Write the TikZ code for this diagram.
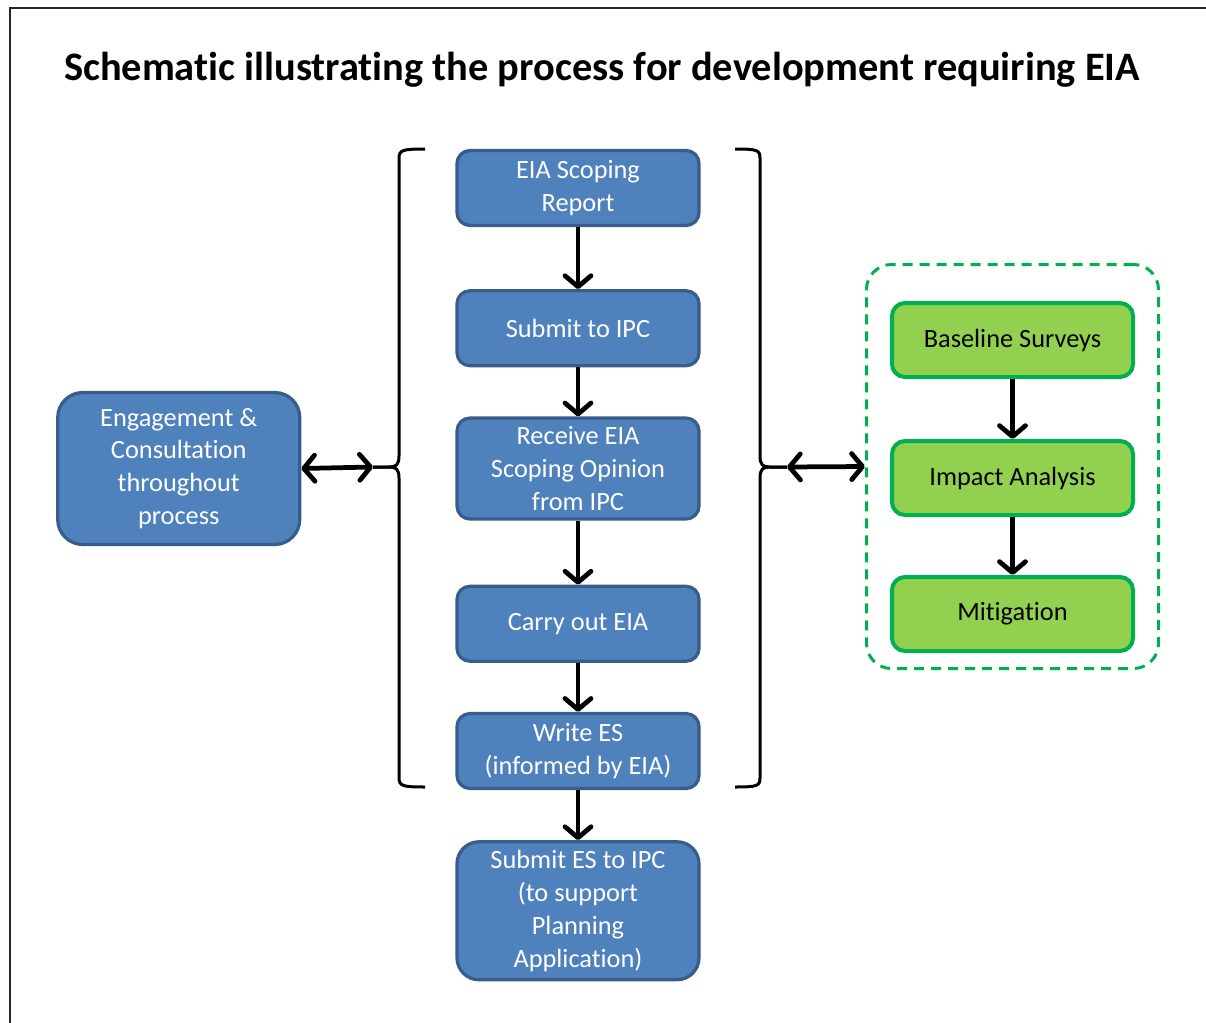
\documentclass[tikz,border=0pt]{standalone}
\usepackage{fontspec}
\setmainfont{Carlito}[Ligatures=NoCommon]
\usetikzlibrary{positioning, arrows.meta, calc}

\definecolor{boxblue}{HTML}{4F81BD}
\definecolor{boxblueline}{HTML}{385D8A}
\definecolor{boxgreen}{HTML}{92D050}
\definecolor{boxgreenline}{HTML}{00B050}

\begin{document}
\begin{tikzpicture}[
    x=0.2mm, y=-0.2mm, % one unit is one pixel of the sheet
    bluebox/.style={draw=boxblueline, fill=boxblue, text=white, line width=0.65mm, rounded corners=2.6mm, align=center, minimum width=48.4mm, minimum height=15mm, font=\fontsize{15}{18.7}\selectfont},
    greenbox/.style={draw=boxgreenline, fill=boxgreen, text=black, line width=0.8mm, rounded corners=2.6mm, align=center, minimum width=48.2mm, minimum height=14.8mm, font=\fontsize{15}{18.7}\selectfont},
    groupbox/.style={draw=boxgreenline, dashed, dash pattern=on 2mm off 1.4mm, line width=0.6mm, rounded corners=5mm, minimum width=58.4mm, minimum height=80.8mm},
    flow/.style={line width=0.95mm, -{Straight Barb[length=2.2mm, width=5.2mm, round]}},
    twoway/.style={line width=0.95mm, {Straight Barb[length=2.2mm, width=5.2mm, round]}-{Straight Barb[length=2.2mm, width=5.2mm, round]}},
    bracket/.style={line width=0.6mm}
]
\useasboundingbox (0,0) rectangle (1206,1023);

% Frame and heading
\draw[line width=0.4mm, black!85] (10,1023) -- (10,8) -- (1206,8);
\node (title) at (602,70) [font=\bfseries\fontsize{23}{27}\selectfont] {Schematic illustrating the process for development requiring EIA};

% Main process column
\node (scoping) at (578,188) [bluebox] {EIA Scoping\\Report};
\node (submit) [bluebox, below=12.4mm of scoping] {Submit to IPC};
\node (opinion) [bluebox, below=9.8mm of submit, minimum height=20.2mm] {Receive EIA\\Scoping Opinion\\from IPC};
\node (carry) [bluebox, below=12.8mm of opinion] {Carry out EIA};
\node (write) [bluebox, below=9.8mm of carry] {Write ES\\(informed by EIA)};
\node (submit_es) [bluebox, below=10mm of write, minimum height=27.6mm, rounded corners=4.4mm] {Submit ES to IPC\\(to support\\Planning\\Application)};

% Engagement box on the left
\node (engage) [bluebox, left=30.8mm of opinion, minimum height=30.4mm, rounded corners=5mm] {Engagement \&\\Consultation\\throughout\\process};

% Technical work on the right
\node (group) at (1012.5,466.5) [groupbox] {};
\node (baseline) at (1012.5,340) [greenbox] {Baseline Surveys};
\node (impact) [greenbox, below=12mm of baseline] {Impact Analysis};
\node (mitigation) [greenbox, below=11.6mm of impact] {Mitigation};

% Brackets round the main column
\coordinate (ltip) at (373,467);
\coordinate (rtip) at (787,467);
\draw[bracket] (425,149) .. controls (403,149) and (399,150) .. (399,158) -- (399,456)
    .. controls (399,465) and (396,467) .. (389,467) -- (ltip);
\draw[bracket] (ltip) -- (389,467) .. controls (396,467) and (399,469) .. (399,478)
    -- (399,778) .. controls (399,786) and (403,787) .. (425,787);
\draw[bracket] (735,149) .. controls (757,149) and (760,150) .. (760,158) -- (760,456)
    .. controls (760,465) and (763,467) .. (770,467) -- (rtip);
\draw[bracket] (rtip) -- (770,467) .. controls (763,467) and (760,469) .. (760,478)
    -- (760,778) .. controls (760,786) and (757,787) .. (735,787);

% Arrows
\draw[flow] (scoping) -- (submit);
\draw[flow] (submit) -- (opinion);
\draw[flow] (opinion) -- (carry);
\draw[flow] (carry) -- (write);
\draw[flow] (write) -- (submit_es);
\draw[flow] (baseline) -- (impact);
\draw[flow] (impact) -- (mitigation);
\draw[twoway] (engage.east) -- (ltip);
\draw[twoway] (rtip) -- (group.west);

\end{tikzpicture}
\end{document}
